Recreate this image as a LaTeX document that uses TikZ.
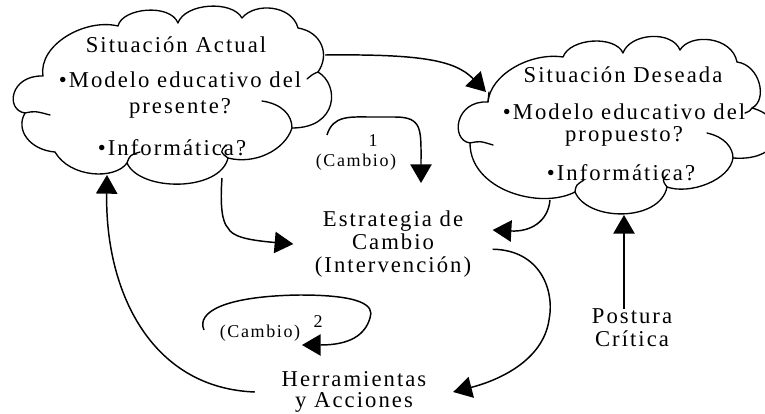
\documentclass[tikz,border=0pt]{standalone}
\usepackage{fontspec}
\setmainfont{Liberation Serif}[LetterSpace=9]
\usetikzlibrary{arrows.meta, positioning}

\begin{document}
\begin{tikzpicture}[x=0.75pt, y=-0.75pt,
    nube/.style={line width=1pt, line join=round},
    rizo/.style={line width=1pt, line cap=round},
    txt/.style={font=\fontsize{17}{18}\selectfont, align=center, inner sep=0pt},
    chico/.style={font=\fontsize{13.5}{14}\selectfont, inner sep=0pt},
    arr/.style={-{Triangle[length=14pt,width=16pt]}, line width=1.1pt},
  ]
  \useasboundingbox (0,0) rectangle (765,414);

  % Nube: situacion actual
  \draw[nube] (43,76) .. controls (38,45) and (85,18) .. (118,26)
    .. controls (122,8) and (170,3) .. (178,23)
    .. controls (185,3) and (232,0) .. (242,18)
    .. controls (255,2) and (292,5) .. (298,28)
    .. controls (322,32) and (330,55) .. (318,72)
    .. controls (340,85) and (338,128) .. (292,128)
    .. controls (285,150) and (255,165) .. (228,158)
    .. controls (220,192) and (140,192) .. (127,163)
    .. controls (115,180) and (70,178) .. (55,152)
    .. controls (30,150) and (15,130) .. (25,113)
    .. controls (5,110) and (10,75) .. (43,76) -- cycle;
  \draw[rizo] (25,113) .. controls (35,111) .. (50,115);
  \draw[rizo] (318,72) .. controls (313,74) .. (307,79);
  \draw[rizo] (262,101) .. controls (282,104) and (292,115) .. (292,128);
  \draw[rizo] (228,158) .. controls (220,152) .. (226,145);
  \draw[rizo] (127,163) .. controls (130,155) .. (140,152);

  % Nube: situacion deseada
  \draw[nube] (488,102) .. controls (490,75) and (530,52) .. (563,57)
    .. controls (570,38) and (615,35) .. (623,53)
    .. controls (630,33) and (672,30) .. (680,50)
    .. controls (690,33) and (732,36) .. (737,62)
    .. controls (760,65) and (768,100) .. (752,108)
    .. controls (790,118) and (785,162) .. (733,158)
    .. controls (730,180) and (690,195) .. (667,187)
    .. controls (660,222) and (588,222) .. (575,192)
    .. controls (540,210) and (470,190) .. (470,143)
    .. controls (450,140) and (455,100) .. (488,102) -- cycle;
  \draw[rizo] (470,143) .. controls (480,141) .. (493,145);
  \draw[rizo] (488,102) -- (489,92);
  \draw[rizo] (752,108) .. controls (750,111) .. (745,113);
  \draw[rizo] (707,133) .. controls (725,137) and (733,148) .. (733,158);
  \draw[rizo] (667,187) .. controls (662,180) .. (668,174);
  \draw[rizo] (575,192) .. controls (576,185) .. (584,180);

  \coordinate (actDer)   at (325,55);
  \coordinate (actBase)  at (222,178);
  \coordinate (actFondo) at (107,175);
  \coordinate (desIzq)   at (486,92);
  \coordinate (desBase)  at (550,200);
  \coordinate (desFondo) at (624,215);

  % Textos de las nubes
  \node[txt] (actTit) at (176,45)  {Situación Actual};
  \node[txt, font=\fontsize{17}{19}\selectfont] (actMod) at (180,95) {•Modelo educativo del\\presente?};
  \node[txt] (actInf) at (172,148) {•Informática?};

  \node[txt] (desTit) at (623,75)  {Situación Deseada};
  \node[txt, font=\fontsize{17}{16.5}\selectfont] (desMod) at (624,125) {•Modelo educativo del\\propuesto?};
  \node[txt] (desInf) at (621,173) {•Informática?};

  % Nodos centrales
  \node[txt, inner xsep=16pt, font=\fontsize{17}{17}\selectfont] (estr) at (393,244) {Estrategia de\\Cambio\\(Intervención)};
  \node[txt, inner xsep=20pt, font=\fontsize{17}{16.3}\selectfont] (herr) at (354,392) {Herramientas\\y Acciones};
  \node[txt, font=\fontsize{17}{17.3}\selectfont] (post) at (632,328) {Postura\\Crítica};

  % Ciclos de cambio
  \node[chico] (uno)   at (373,141) {1};
  \node[chico] (camb1) at (356,162) {(Cambio)};
  \node[chico] (dos)   at (318,322) {2};
  \node[chico] (camb2) at (260,333) {(Cambio)};

  \coordinate (l1s) at (327,135);
  \coordinate (l1e) at (421,183);
  \coordinate (l2s) at (204,330);
  \coordinate (l2e) at (302,345);

  \draw[arr] (actDer) .. controls (420,54) and (455,60) .. (desIzq);
  \draw[arr] (l1s) .. controls (333,115) and (350,117) .. (370,117)
             -- (395,117) .. controls (423,117) and (421,130) .. (l1e);
  \draw[arr] (actBase) .. controls (220,205) and (222,222) .. (228,228)
             .. controls (232,236) and (245,240) .. (estr.west);
  \draw[arr] (desBase) .. controls (548,222) and (530,232) .. (estr.8);
  \draw[arr] (estr.-3) .. controls (540,250) and (555,290) .. (549,320)
             .. controls (543,360) and (500,380) .. (herr.east);
  \draw[arr] (herr.west) .. controls (150,388) and (105,290) .. (actFondo);
  \draw[arr] (l2s) .. controls (196,312) and (225,296) .. (300,295)
             .. controls (360,295) and (375,305) .. (370,318)
             .. controls (365,335) and (350,345) .. (l2e);
  \draw[arr] ([xshift=-6pt]post.north) -- ([xshift=-6pt]post.north |- desFondo);
\end{tikzpicture}
\end{document}
